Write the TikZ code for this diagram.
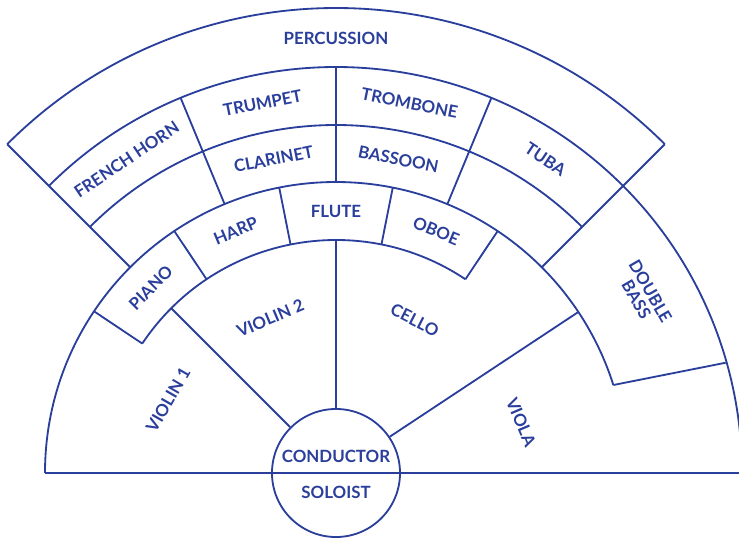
\documentclass[tikz,border=0pt]{standalone}
\usepackage{fontspec}
\setmainfont{Lato}
\usetikzlibrary{positioning}
\definecolor{ink}{RGB}{42,62,155}
\tikzset{
  part/.style={draw=ink,line width=1.3pt},
  lbl/.style={text=ink,font=\fontsize{12}{11.5}\selectfont\bfseries,align=center,inner sep=1pt},
}
\begin{document}
\begin{tikzpicture}[x=0.025cm, y=0.025cm, line join=round]
\useasboundingbox (-336,-69) rectangle (403,473);
% podium in the middle
\node[circle, part, minimum size=3.2cm, inner sep=0pt] (podium) at (0,0) {};
\draw[part] (180:291) -- (0:405);
% rings
\draw[part] (135:465) arc[start angle=135, end angle=45, radius=465];
\draw[part] (135:406) arc[start angle=135, end angle=0, radius=406];
\draw[part] (135:348) arc[start angle=135, end angle=45, radius=348];
\draw[part] (180:291) arc[start angle=180, end angle=17.6, radius=291];
\draw[part] (146.25:233) arc[start angle=146.25, end angle=56.25, radius=233];
% spokes
\draw[part] (135:291) -- (135:465);
\draw[part] (45:291) -- (45:465);
\draw[part] (112.5:291) -- (112.5:406);
\draw[part] (90:291) -- (90:406);
\draw[part] (67.5:291) -- (67.5:406);
\foreach \a in {146.25,123.75,101.25,78.75,56.25}
  \draw[part] (\a:233) -- (\a:291);
\draw[part] (podium.135) -- (135:233);
\draw[part] (podium.90) -- (90:233);
\draw[part] (podium.34) -- (33.6:291);
\draw[part] (17.6:291) -- (15.8:405);
% labels
\node[lbl] (percussion) at (90:435) {PERCUSSION};
\node[lbl, rotate=33.75] (horn) at (123.75:377) {FRENCH HORN};
\node[lbl, rotate=11.25] (trumpet) at (101.25:377) {TRUMPET};
\node[lbl, rotate=-11.25] (trombone) at (78.75:377) {TROMBONE};
\node[lbl, rotate=-33.75] (tuba) at (56.25:377) {TUBA};
\node[lbl, rotate=11.25] (clarinet) at (101.25:320) {CLARINET};
\node[lbl, rotate=-11.25] (bassoon) at (78.75:320) {BASSOON};
\node[lbl, rotate=45] (piano) at (135:262) {PIANO};
\node[lbl, rotate=22.5] (harp) at (112.5:262) {HARP};
\node[lbl] (flute) at (90:262) {FLUTE};
\node[lbl, rotate=-22.5] (oboe) at (67.5:262) {OBOE};
\node[lbl, rotate=60] (violin1) at (156.5:183) {VIOLIN 1};
\node[lbl, rotate=23] (violin2) at (113:168) {VIOLIN 2};
\node[lbl, rotate=-27] (cello) at (62.7:172) {CELLO};
\node[lbl, rotate=-67] (viola) at (15.4:192) {VIOLA};
\node[lbl, rotate=-60] (bass) at (30:355) {DOUBLE\\BASS};
\node[lbl] (conductor) at (0,17) {CONDUCTOR};
\node[lbl] (soloist) at (0,-19) {SOLOIST};
\end{tikzpicture}
\end{document}
